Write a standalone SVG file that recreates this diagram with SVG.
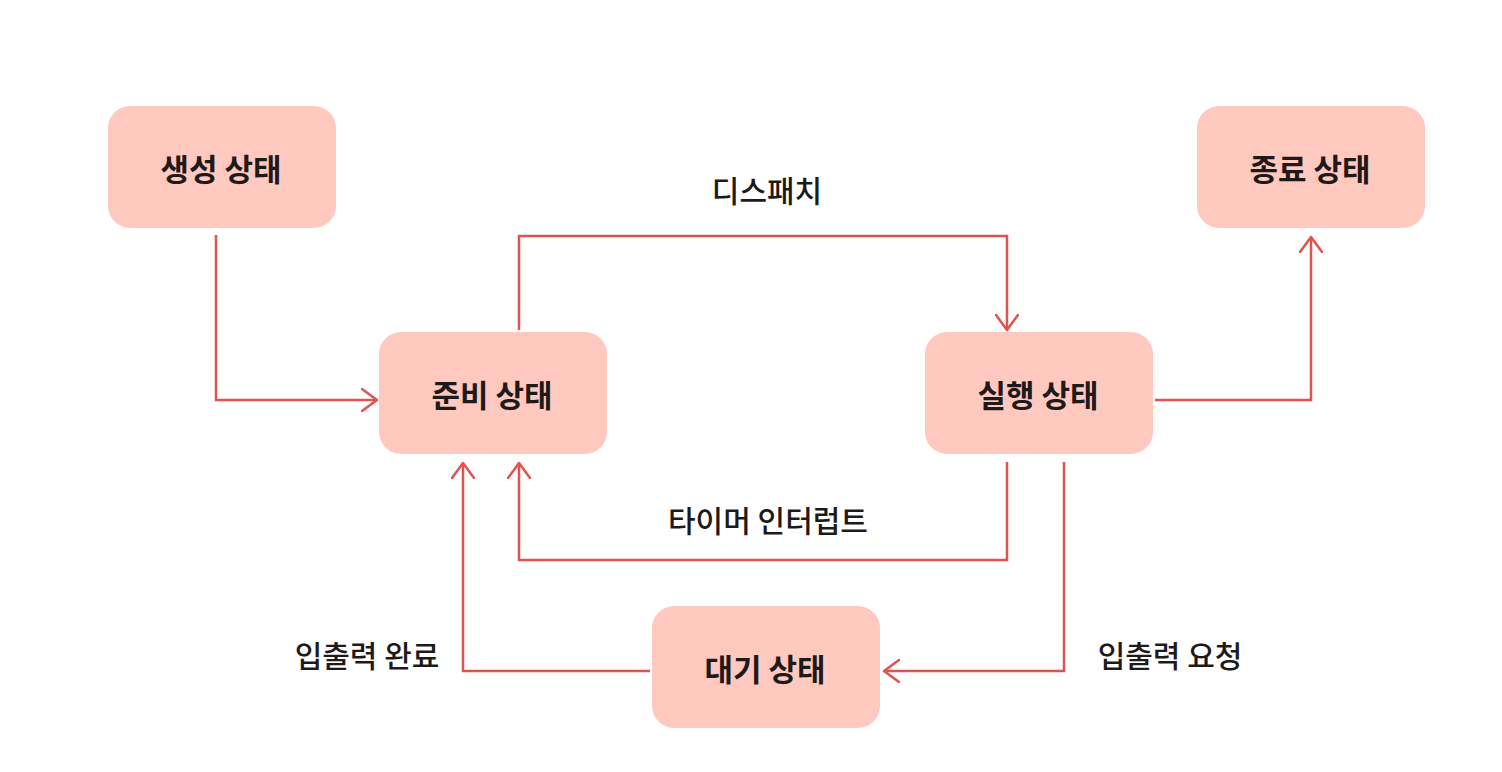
<svg xmlns="http://www.w3.org/2000/svg" width="1502" height="772" viewBox="0 0 1502 772">
<defs>
<style>
.node rect{fill:#FFC9C0;}
.node text{font-family:"Noto Sans CJK KR","Noto Sans",sans-serif;font-weight:700;font-size:31px;fill:#1f1a1a;text-anchor:middle;dominant-baseline:central;}
.lbl{font-family:"Noto Sans CJK KR","Noto Sans",sans-serif;font-weight:500;font-size:30px;fill:#1f1a1a;text-anchor:middle;dominant-baseline:central;}
.edge{fill:none;stroke:#E0534E;stroke-width:2.5;stroke-linejoin:miter;marker-end:url(#arr);}
</style>
<marker id="arr" viewBox="0 0 18 24" refX="16" refY="12" markerWidth="18" markerHeight="24" markerUnits="userSpaceOnUse" orient="auto">
<path d="M1,1 L16,12 L1,23" fill="none" stroke="#E0534E" stroke-width="2.5" stroke-linecap="round" stroke-linejoin="round"/>
</marker>
</defs>
<rect width="1502" height="772" fill="#ffffff"/>
<g id="connectors">
<path class="edge" d="M216,235 V400 H377"/>
<path class="edge" d="M519,330 V236 H1007 V330"/>
<path class="edge" d="M1155,400 H1311 V237"/>
<path class="edge" d="M1007,462 V560 H519 V463"/>
<path class="edge" d="M1064,462 V671 H884"/>
<path class="edge" d="M650,671 H463 V463"/>
</g>
<g id="labels">
<text class="lbl" x="767" y="189">디스패치</text>
<text class="lbl" x="768" y="519">타이머 인터럽트</text>
<text class="lbl" x="1170" y="654">입출력 요청</text>
<text class="lbl" x="367" y="654">입출력 완료</text>
</g>
<g id="node-created" class="node"><rect x="108" y="106" width="228" height="122" rx="22"/><text x="221" y="167">생성 상태</text></g>
<g id="node-terminated" class="node"><rect x="1197" y="106" width="228" height="122" rx="22"/><text x="1310" y="167">종료 상태</text></g>
<g id="node-ready" class="node"><rect x="379" y="332" width="228" height="122" rx="22"/><text x="492" y="393">준비 상태</text></g>
<g id="node-running" class="node"><rect x="925" y="332" width="228" height="122" rx="22"/><text x="1038" y="393">실행 상태</text></g>
<g id="node-waiting" class="node"><rect x="652" y="606" width="228" height="122" rx="22"/><text x="765" y="667">대기 상태</text></g>
</svg>
